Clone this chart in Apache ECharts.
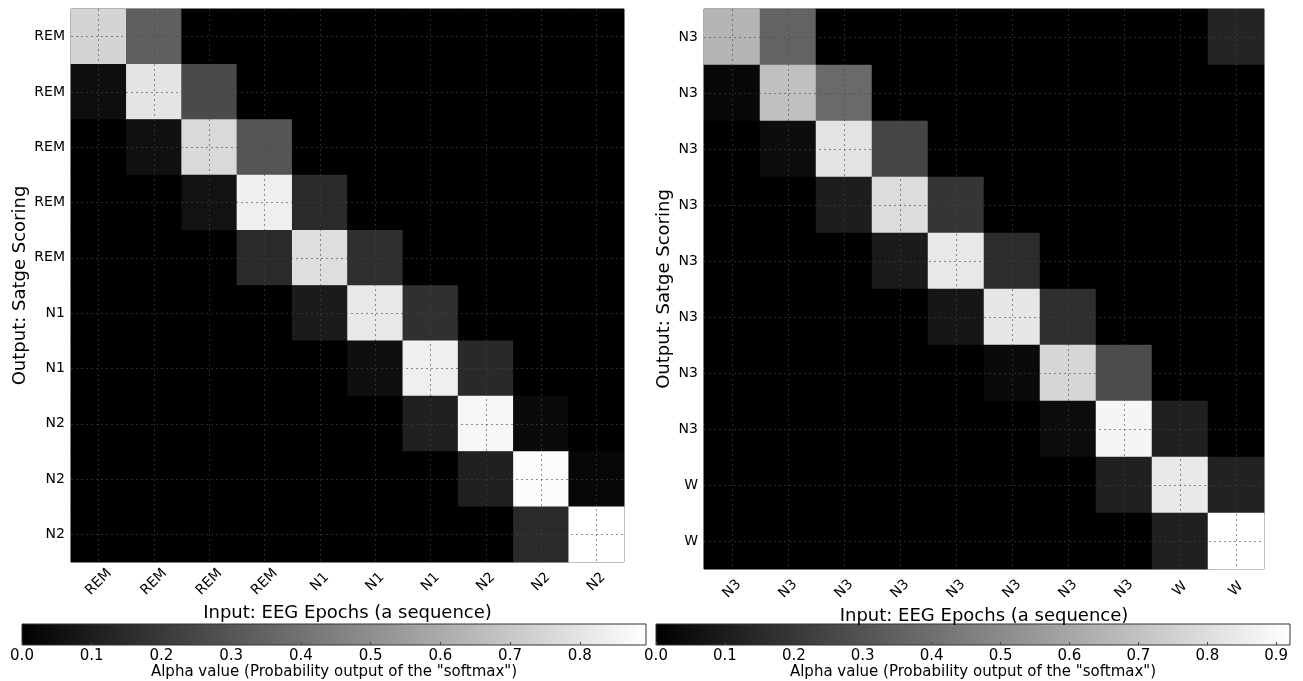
<!DOCTYPE html>
<html>
<head>
<meta charset="utf-8">
<script src="https://cdn.jsdelivr.net/npm/echarts@6/dist/echarts.min.js"></script>
<style>html,body{margin:0;padding:0;background:#fff;}#c{width:1303px;height:681px;}</style>
</head>
<body>
<div id="c"></div>
<script>
const xLabelsLeft = ['REM','REM','REM','REM','N1','N1','N1','N2','N2','N2'];
const yLabelsLeft = ['REM','REM','REM','REM','REM','N1','N1','N2','N2','N2'];
const xLabelsRight = ['N3','N3','N3','N3','N3','N3','N3','N3','W','W'];
const yLabelsRight = ['N3','N3','N3','N3','N3','N3','N3','N3','W','W'];

const leftRows = [
  [0.745,0.333,0,0,0,0,0,0,0,0],
  [0.050,0.800,0.260,0,0,0,0,0,0,0],
  [0,0.056,0.760,0.300,0,0,0,0,0,0],
  [0,0,0.063,0.840,0.147,0,0,0,0,0],
  [0,0,0,0.147,0.780,0.165,0,0,0,0],
  [0,0,0,0,0.095,0.815,0.168,0,0,0],
  [0,0,0,0,0,0.053,0.840,0.144,0,0],
  [0,0,0,0,0,0,0.112,0.867,0.035,0],
  [0,0,0,0,0,0,0,0.112,0.885,0.025],
  [0,0,0,0,0,0,0,0,0.147,0.895]
];
const rightRows = [
  [0.653,0.357,0,0,0,0,0,0,0,0.130],
  [0.029,0.693,0.383,0,0,0,0,0,0,0],
  [0,0.047,0.820,0.249,0,0,0,0,0,0],
  [0,0,0.105,0.794,0.190,0,0,0,0,0],
  [0,0,0,0.094,0.837,0.159,0,0,0,0],
  [0,0,0,0,0.080,0.830,0.170,0,0,0],
  [0,0,0,0,0,0.036,0.772,0.274,0,0],
  [0,0,0,0,0,0,0.043,0.884,0.115,0],
  [0,0,0,0,0,0,0,0.115,0.840,0.123],
  [0,0,0,0,0,0,0,0,0.112,0.920]
];
const cbMaxLeft = 0.895;
const cbMaxRight = 0.92;
const cbInterval = 0.1;
const xTitle = 'Input: EEG Epochs (a sequence)';
const yTitle = 'Output: Satge Scoring';
const cbTitle = 'Alpha value (Probability output of the "softmax")';

function toCells(rows) {
  const out = [];
  rows.forEach((r, i) => r.forEach((v, j) => out.push([j, i, v])));
  return out;
}
function centerLines(labels) {
  const lines = [];
  labels.forEach((_, i) => { lines.push({xAxis: i}); lines.push({yAxis: i}); });
  return lines;
}

const FONT = 'DejaVu Sans';
const chart = echarts.init(document.getElementById('c'), null, {renderer: 'canvas'});

function heatX(gridIndex, labels) {
  return {
    type: 'category', gridIndex, data: labels, position: 'bottom',
    name: xTitle, nameLocation: 'middle', nameGap: 36,
    nameTextStyle: {fontFamily: FONT, fontSize: 18, color: '#000'},
    axisLine: {show: false}, axisTick: {show: false}, splitLine: {show: false},
    axisLabel: {rotate: 45, align: 'center', verticalAlign: 'middle', margin: 20, interval: 0,
      fontFamily: FONT, fontSize: 14, color: '#000'}
  };
}
function heatY(gridIndex, labels, gap) {
  return {
    type: 'category', gridIndex, data: labels, inverse: true,
    name: yTitle, nameLocation: 'middle', nameGap: gap, nameRotate: 90,
    nameTextStyle: {fontFamily: FONT, fontSize: 18, color: '#000'},
    axisLine: {show: false}, axisTick: {show: false}, splitLine: {show: false},
    axisLabel: {margin: 6, interval: 0, fontFamily: FONT, fontSize: 14, color: '#000'}
  };
}
function cbX(gridIndex, max) {
  return {
    type: 'value', gridIndex, min: 0, max: max, interval: cbInterval,
    name: cbTitle, nameLocation: 'middle', nameGap: 20,
    nameTextStyle: {fontFamily: FONT, fontSize: 15, color: '#000'},
    axisLine: {show: false}, splitLine: {show: false},
    axisTick: {show: true, inside: true, length: 3, lineStyle: {color: '#444'}},
    axisLabel: {showMaxLabel: false, margin: 4, fontFamily: FONT, fontSize: 15, color: '#000',
      formatter: v => v.toFixed(1)}
  };
}
function grad() {
  return new echarts.graphic.LinearGradient(0, 0, 1, 0, [
    {offset: 0, color: '#000000'}, {offset: 1, color: '#ffffff'}
  ]);
}
const dotStyle = {type: [2, 3], color: 'rgba(70,70,70,0.6)', width: 1};

const option = {
  backgroundColor: '#fff',
  animation: false,
  grid: [
    {left: 71, top: 9, width: 553, height: 553, show: true, borderColor: '#555', borderWidth: 1, backgroundColor: '#000'},
    {left: 704, top: 9, width: 560, height: 560, show: true, borderColor: '#555', borderWidth: 1, backgroundColor: '#000'},
    {left: 22, top: 624, width: 624, height: 21, show: true, borderColor: '#333', borderWidth: 1, backgroundColor: grad()},
    {left: 656, top: 624, width: 634, height: 21, show: true, borderColor: '#333', borderWidth: 1, backgroundColor: grad()}
  ],
  xAxis: [
    heatX(0, xLabelsLeft), heatX(1, xLabelsRight),
    cbX(2, cbMaxLeft), cbX(3, cbMaxRight)
  ],
  yAxis: [
    heatY(0, yLabelsLeft, 42), heatY(1, yLabelsRight, 31),
    {type: 'value', gridIndex: 2, show: false, min: 0, max: 1},
    {type: 'value', gridIndex: 3, show: false, min: 0, max: 1}
  ],
  visualMap: [
    {type: 'continuous', show: false, seriesIndex: 0, min: 0, max: cbMaxLeft, inRange: {color: ['#000000', '#ffffff']}},
    {type: 'continuous', show: false, seriesIndex: 1, min: 0, max: cbMaxRight, inRange: {color: ['#000000', '#ffffff']}}
  ],
  series: [
    {
      type: 'heatmap', xAxisIndex: 0, yAxisIndex: 0, data: toCells(leftRows),
      emphasis: {disabled: true}, silent: true,
      markLine: {silent: true, symbol: 'none', animation: false, label: {show: false},
        lineStyle: dotStyle, data: centerLines(xLabelsLeft)}
    },
    {
      type: 'heatmap', xAxisIndex: 1, yAxisIndex: 1, data: toCells(rightRows),
      emphasis: {disabled: true}, silent: true,
      markLine: {silent: true, symbol: 'none', animation: false, label: {show: false},
        lineStyle: dotStyle, data: centerLines(xLabelsRight)}
    }
  ]
};
chart.setOption(option);
</script>
</body>
</html>
